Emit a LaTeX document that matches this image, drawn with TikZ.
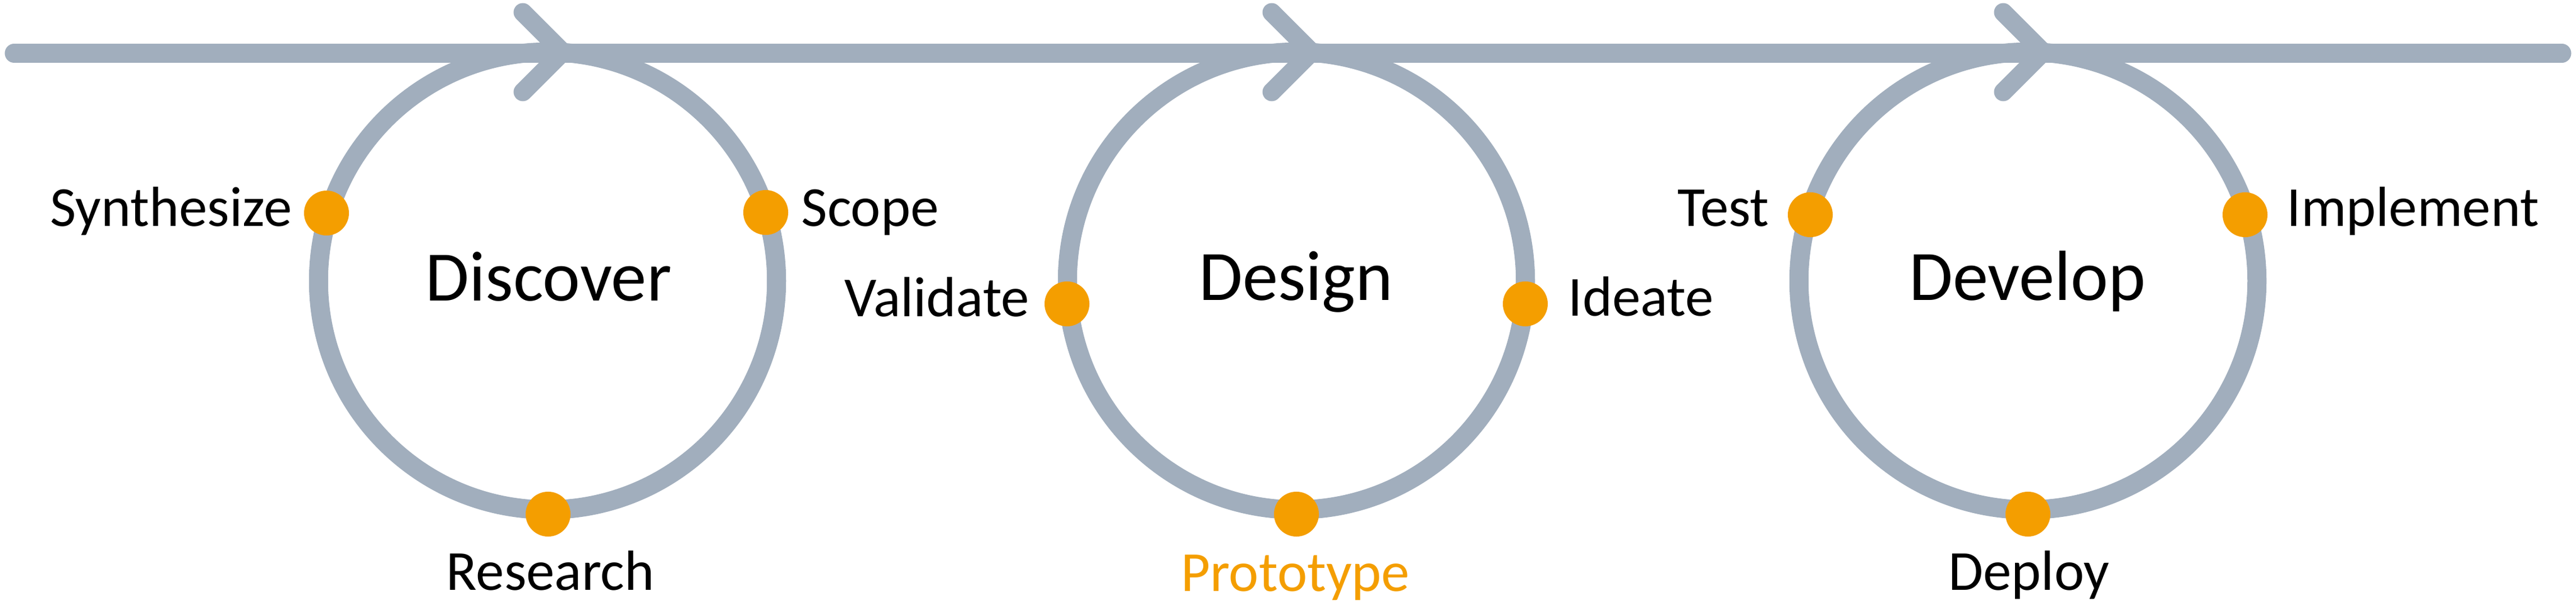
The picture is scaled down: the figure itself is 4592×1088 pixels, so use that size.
\documentclass[tikz,border=0pt]{standalone}
\usepackage{fontspec}
\setmainfont{Carlito}
\definecolor{ringgray}{HTML}{A1AEBD}
\definecolor{dotorange}{HTML}{F49E00}
\begin{document}
\begin{tikzpicture}[x=0.01cm,y=-0.01cm,
  track/.style={draw=ringgray,line width=0.33cm,line cap=round},
  chev/.style={draw=ringgray,line width=0.33cm,line cap=round,line join=miter},
  ring/.style={circle,draw=ringgray,line width=0.34cm,minimum size=8.16cm,inner sep=0pt},
  dot/.style={circle,fill=dotorange,minimum size=0.8cm,inner sep=0pt},
  lbl/.style={inner sep=0pt,font=\fontsize{28.7}{34}\selectfont},
  title/.style={inner sep=0pt,font=\fontsize{36}{43}\selectfont,anchor=base}]
\useasboundingbox (0,0) rectangle (4592,1088);
% main track
\coordinate (L) at (25,95);
\coordinate (R) at (4567,95);
\draw[track] (L) -- (R);
% rings
\node[ring] (c1) at (976,501) {};
\node[ring] (c2) at (2311,501) {};
\node[ring] (c3) at (3615,501) {};
% chevrons on the track
\foreach \c in {976,2311,3615}{
  \draw[chev] (\c-44,22) -- (\c+27,93) -- (\c-44,164);
}
% titles
\node[title] (t1) at (978,536) {Discover};
\node[title] (t2) at (2310,535) {Design};
\node[title] (t3) at (3614,535) {Develop};
% dots
\node[dot] (d11) at (582,380) {};
\node[dot] (d12) at (1365,379) {};
\node[dot] (d13) at (977,917) {};
\node[dot] (d21) at (1902,542) {};
\node[dot] (d22) at (2719,542) {};
\node[dot] (d23) at (2311,917) {};
\node[dot] (d31) at (3227,383) {};
\node[dot] (d32) at (4002,383) {};
\node[dot] (d33) at (3615,917) {};
% labels
\node[lbl,anchor=base east] (l11) at (521,403) {Synthesize};
\node[lbl,anchor=base west] (l12) at (1428,403) {Scope};
\node[lbl,anchor=base] (l13) at (981,1052) {Research};
\node[lbl,anchor=base east] (l21) at (1836,564) {Validate};
\node[lbl,anchor=base west] (l22) at (2795,563) {Ideate};
\node[lbl,anchor=base,text=dotorange] (l23) at (2309,1054) {Prototype};
\node[lbl,anchor=base east] (l31) at (3154,403) {Test};
\node[lbl,anchor=base west] (l32) at (4076,403) {Implement};
\node[lbl,anchor=base] (l33) at (3617,1052) {Deploy};
\end{tikzpicture}
\end{document}
